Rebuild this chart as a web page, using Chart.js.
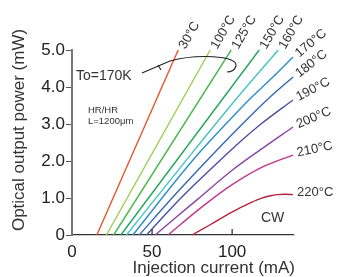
<!DOCTYPE html>
<html>
<head>
<meta charset="utf-8">
<script src="https://cdn.jsdelivr.net/npm/chart.js@4/dist/chart.umd.min.js"></script>
<style>
  html, body { margin: 0; padding: 0; background: #fff; }
  #wrap { width: 342px; height: 277px; }
</style>
</head>
<body>
<div id="wrap"><canvas id="myChart" width="342" height="277"></canvas></div>
<script>
// temperatures and line colours
const temps = ['30°C', '100°C', '125°C', '150°C', '160°C', '170°C', '180°C', '190°C', '200°C', '210°C', '220°C'];
const colors = ['#e8552d', '#9ccc50', '#4cb84e', '#22a55c', '#45c3c8', '#2b8ccc', '#3566b4', '#4b4ea3', '#8a44a6', '#c2368a', '#b5223f'];

// injection current (mA) and output power (mW), from threshold on
const currents = [
    [15.5, 66.3],
    [21.5, 86.3],
    [26, 99.4],
    [30.5, 116.9],
    [34, 70, 102, 128.8],
    [38, 75, 95, 110.4, 125, 138],
    [42, 65, 84, 103, 121.7, 138],
    [46.5, 68, 92, 105, 118, 138],
    [52, 65, 78, 100, 117.5, 138],
    [60, 80, 100, 120, 138],
    [75, 86, 99, 112, 118, 124, 128, 133, 138]
];
const powers = [
    [0, 5.0],
    [0, 5.0],
    [0, 5.0],
    [0, 5.0],
    [0, 1.95, 3.65, 5.0],
    [0, 2.0, 2.95, 3.65, 4.25, 4.81],
    [0, 1.12, 2.0, 2.85, 3.65, 4.27],
    [0, 1.0, 2.0, 2.52, 3.0, 3.65],
    [0, 0.48, 0.95, 1.75, 2.3, 2.92],
    [0, 0.72, 1.36, 1.86, 2.16],
    [0, 0.27, 0.6, 0.88, 0.99, 1.06, 1.09, 1.1, 1.09]
];
const xTicks = [0, 50, 100];
const yTicks = [0, 1, 2, 3, 4, 5];
// label rotation (degrees) for each temperature tag
const labelAngles = [-60, -60, -60, -60, -60, -40, -38, -28, -23, -12, 0];

const FONT = 'Arial, "Liberation Sans", sans-serif';

var datasets = temps.map((t, i) => ({
    label: t,
    data: currents[i].map((c, j) => ({x: c, y: powers[i][j]})),
    borderColor: colors[i],
    borderWidth: 1.4,
    pointRadius: 0,
    fill: false,
    cubicInterpolationMode: 'monotone',
    clip: false
}));

var extras = {
    id: 'extras',
    afterDraw: function(chart) {
        var ctx = chart.ctx;
        var xs = chart.scales.x, ys = chart.scales.y;
        var area = chart.chartArea;
        var L = area.left, T = area.top;
        ctx.save();
        // inward ticks on x axis
        ctx.strokeStyle = '#333';
        ctx.lineWidth = 1.3;
        xTicks.forEach(v => {
            if (v === 0) return;
            var px = xs.getPixelForValue(v);
            ctx.beginPath();
            ctx.moveTo(px, area.bottom);
            ctx.lineTo(px, area.bottom - 6);
            ctx.stroke();
        });
        // temperature tags at the end of each curve
        ctx.fillStyle = '#333';
        ctx.font = '13px ' + FONT;
        ctx.textBaseline = 'middle';
        ctx.textAlign = 'left';
        temps.forEach((t, i) => {
            var n = currents[i].length - 1;
            var px = xs.getPixelForValue(currents[i][n]);
            var py = ys.getPixelForValue(powers[i][n]);
            var a = labelAngles[i] * Math.PI / 180;
            ctx.save();
            ctx.translate(px + 4, py - 2);
            ctx.rotate(a);
            ctx.fillText(t, 0, 0);
            ctx.restore();
        });
        // To=170K note with bracket
        ctx.font = '14px ' + FONT;
        ctx.fillText('To=170K', L + 4, T + 26);
        ctx.strokeStyle = '#222';
        ctx.lineWidth = 1.1;
        ctx.beginPath();
        ctx.moveTo(L + 70, T + 23);
        ctx.lineTo(L + 98, T + 11);
        ctx.bezierCurveTo(L + 123, T + 4, L + 166, T + 5, L + 164, T + 16);
        ctx.quadraticCurveTo(L + 162, T + 22, L + 155, T + 22);
        ctx.stroke();
        ctx.beginPath();
        ctx.moveTo(L + 86, T + 15);
        ctx.lineTo(L + 89, T + 20);
        ctx.stroke();
        // device note
        ctx.font = '9.5px ' + FONT;
        ctx.fillText('HR/HR', L + 16, T + 60);
        ctx.fillText('L=1200μm', L + 16, T + 71);
        // CW
        ctx.font = '14px ' + FONT;
        ctx.fillText('CW', xs.getPixelForValue(118), ys.getPixelForValue(0.45));
        // axis titles
        ctx.font = '17px ' + FONT;
        ctx.textAlign = 'right';
        ctx.textBaseline = 'alphabetic';
        ctx.fillText('Injection current (mA)', area.right + 2, chart.height - 4);
        ctx.save();
        ctx.textAlign = 'center';
        ctx.textBaseline = 'middle';
        ctx.translate(19, T + 80);
        ctx.rotate(-Math.PI / 2);
        ctx.fillText('Optical output power (mW)', 0, 0);
        ctx.restore();
        ctx.restore();
    }
};

var myChart = new Chart(document.getElementById('myChart'), {
    type: 'line',
    data: { datasets: datasets },
    options: {
        responsive: false,
        animation: false,
        events: [],
        layout: { padding: { top: 50, right: 49, left: 0, bottom: 0 } },
        plugins: { legend: { display: false }, tooltip: { enabled: false } },
        scales: {
            x: {
                type: 'linear',
                min: 0,
                max: 138,
                afterFit: s => { s.height = 42; },
                afterBuildTicks: s => { s.ticks = xTicks.map(v => ({value: v})); },
                grid: { display: true, drawOnChartArea: false, drawTicks: false },
                border: { color: '#333', width: 1.3 },
                ticks: { color: '#222', padding: 7, font: { size: 17, family: FONT } }
            },
            y: {
                type: 'linear',
                min: 0,
                max: 5,
                afterFit: s => { s.width = 72; },
                afterBuildTicks: s => { s.ticks = yTicks.map(v => ({value: v})); },
                grid: { display: true, drawOnChartArea: false, drawTicks: true, tickLength: 6, color: '#555' },
                border: { color: '#777', width: 2 },
                ticks: {
                    color: '#222', padding: 1, font: { size: 17, family: FONT },
                    callback: v => v === 0 ? '0' : v.toFixed(1)
                }
            }
        }
    },
    plugins: [extras]
});
</script>
</body>
</html>
